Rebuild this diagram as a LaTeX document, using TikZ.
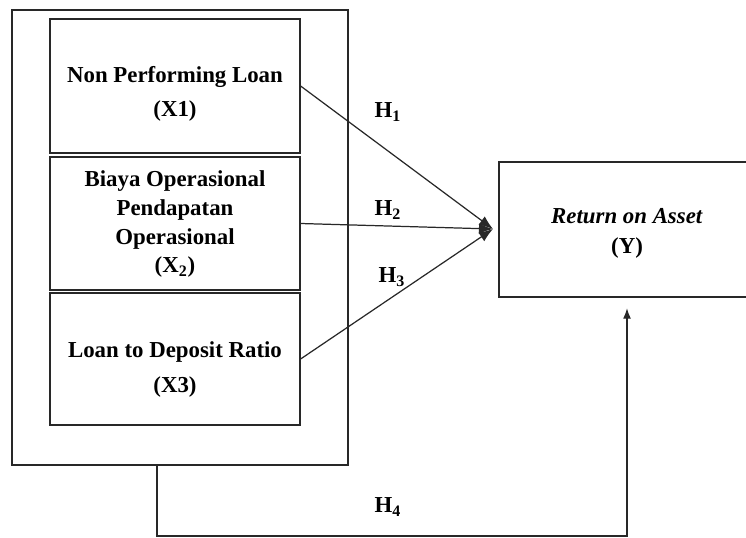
\documentclass[tikz,border=0pt]{standalone}
\usepackage{fontspec}
\setmainfont{Liberation Serif}
\usetikzlibrary{positioning,arrows.meta}
\definecolor{lnGray}{RGB}{40,40,40}

\begin{document}
\begin{tikzpicture}[x=0.02cm,y=-0.02cm,
  varbox/.style={draw=lnGray, line width=0.7pt, rectangle, inner sep=0pt, minimum width=5cm,
    align=center, font=\fontsize{13}{19}\selectfont\bfseries},
  hyp/.style={font=\fontsize{13}{15}\selectfont\bfseries},
  link/.style={lnGray, line width=0.7pt, -{Latex[length=8pt,width=6pt]}}]
  \path[use as bounding box, clip] (0,0) rectangle (746,537);

  % Independent variables
  \node[varbox, minimum height=2.68cm] (x1) at (175,86) {\rule{0pt}{18pt}Non Performing Loan\\(X1)};
  \node[varbox, minimum height=2.66cm, font=\fontsize{13}{16.3}\selectfont\bfseries] (x2) at (175,223.5)
    {\rule{0pt}{10pt}Biaya Operasional\\Pendapatan\\Operasional\\(X\textsubscript{2})};
  \node[varbox, minimum height=2.64cm, font=\fontsize{13}{19.8}\selectfont\bfseries] (x3) at (175,359)
    {\rule{0pt}{21pt}Loan to Deposit Ratio\\(X3)};

  % Group around X1--X3
  \node[draw=lnGray, line width=0.7pt, rectangle, inner sep=0pt, minimum width=6.72cm, minimum height=9.1cm] (grp) at (180,237.5) {};

  % Dependent variable
  \node[varbox, minimum width=5.12cm, minimum height=2.7cm, font=\fontsize{13}{17.5}\selectfont\bfseries] (roa) at (627,229.5)
    {\rule{0pt}{13pt}\textit{Return on Asset}\\(Y)};

  % Partial effects
  \coordinate (m) at (493,229);
  \draw[link] (x1.east) -- (m);
  \draw[link] (x2.east) -- (m);
  \draw[link] (x3.east) -- (m);

  % Joint effect
  \coordinate (h4a) at (157,536);
  \draw[link, -{Latex[length=6pt,width=4.5pt]}, shorten >=6pt] (grp.south -| h4a) -- (h4a) -- (roa.south |- h4a) -- (roa.south);

  % Hypotheses
  \node[hyp] (h1) at (388,112) {H\textsubscript{1}};
  \node[hyp] (h2) at (388,210) {H\textsubscript{2}};
  \node[hyp] (h3) at (392,277) {H\textsubscript{3}};
  \node[hyp] (h4) at (388,507) {H\textsubscript{4}};
\end{tikzpicture}
\end{document}
